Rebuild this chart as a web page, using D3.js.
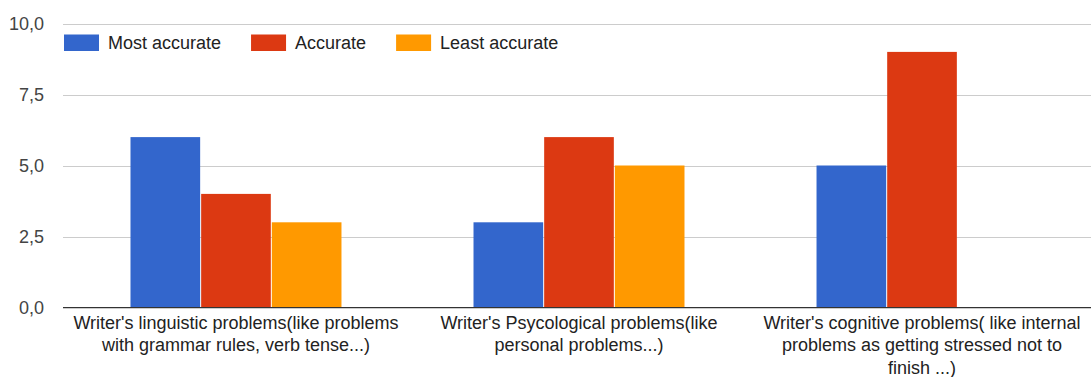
<!DOCTYPE html>
<html>
<head>
<meta charset="utf-8">
<script src="https://cdn.jsdelivr.net/npm/d3@7"></script>
<style>
  html, body { margin: 0; padding: 0; background: #fff; }
  svg { display: block; font-family: "Liberation Sans", Arial, sans-serif; }
</style>
</head>
<body>
<svg id="chart" width="1091" height="377"></svg>
<script>
// Survey responses per problem type
const categories = [
  "Writer's linguistic problems(like problems with grammar rules, verb tense...)",
  "Writer's Psycological problems(like personal problems...)",
  "Writer's cognitive problems( like internal problems as getting stressed not to finish ...)"
];
// How each category label breaks onto lines under the axis
const categoryLines = [
  ["Writer's linguistic problems(like problems", "with grammar rules, verb tense...)"],
  ["Writer's Psycological problems(like", "personal problems...)"],
  ["Writer's cognitive problems( like internal", "problems as getting stressed not to", "finish ...)"]
];
const seriesNames = ["Most accurate", "Accurate", "Least accurate"];
const mostAccurate = [6, 3, 5];
const accurate = [4, 6, 9];
const leastAccurate = [3, 5, 0];
const seriesColors = ["#3366cc", "#dc3912", "#ff9900"];
const yTicks = [0, 2.5, 5, 7.5, 10];

const seriesValues = [mostAccurate, accurate, leastAccurate];

const svg = d3.select("#chart");
const plotLeft = 63, plotRight = 1092, plotTop = 23.5, plotBottom = 307.5;

const x = d3.scaleBand()
  .domain(categories)
  .range([plotLeft, 1095])
  .paddingInner(0.382)
  .paddingOuter(0.1953);

const xSub = d3.scaleBand()
  .domain(seriesNames)
  .range([0, x.bandwidth()]);

const y = d3.scaleLinear().domain([0, 10]).range([plotBottom, plotTop]);

const fmt = v => d3.format(".1f")(v).replace(".", ",");

// Horizontal gridlines and value labels
const yAxis = d3.axisLeft(y).tickValues(yTicks).tickFormat(fmt)
  .tickSize(-(plotRight - plotLeft)).tickPadding(19);
const gy = svg.append("g").attr("transform", `translate(${plotLeft},0)`).call(yAxis);
gy.select(".domain").remove();
gy.selectAll(".tick line").attr("stroke", "#cccccc").attr("stroke-width", 1)
  .attr("shape-rendering", "crispEdges");
gy.selectAll(".tick text").attr("fill", "#444").attr("font-size", 18)
  .attr("font-family", "Liberation Sans, Arial, sans-serif");

// Bars
const groups = svg.append("g").selectAll("g")
  .data(categories)
  .join("g")
  .attr("transform", d => `translate(${x(d)},0)`);

groups.selectAll("rect")
  .data((d, i) => seriesNames.map((s, j) => ({ s, v: seriesValues[j][i], c: seriesColors[j] })))
  .join("rect")
  .attr("x", d => xSub(d.s) + 0.5)
  .attr("y", d => y(d.v))
  .attr("width", xSub.bandwidth() - 1)
  .attr("height", d => y(0) - y(d.v))
  .attr("fill", d => d.c)
  .attr("display", d => d.v > 0 ? null : "none");

// Baseline axis
svg.append("line")
  .attr("x1", plotLeft).attr("x2", plotRight)
  .attr("y1", y(0)).attr("y2", y(0))
  .attr("stroke", "#333").attr("stroke-width", 1.2);

// Category labels
const xAxis = d3.axisBottom(x).tickSize(0).tickFormat("");
const gx = svg.append("g").attr("transform", `translate(0,${plotBottom})`).call(xAxis);
gx.select(".domain").remove();
gx.selectAll(".tick").each(function (d, i) {
  const t = d3.select(this).append("text")
    .attr("fill", "#222")
    .attr("font-size", 18)
    .attr("font-family", "Liberation Sans, Arial, sans-serif")
    .attr("text-anchor", "middle");
  categoryLines[i].forEach((line, k) => {
    t.append("tspan").attr("x", 0).attr("y", 21 + k * 22.5).text(line);
  });
});

// Legend
const legend = svg.append("g");
let lx = 64;
seriesNames.forEach((name, j) => {
  legend.append("rect")
    .attr("x", lx).attr("y", 34.5).attr("width", 35).attr("height", 16.5)
    .attr("fill", seriesColors[j]);
  const txt = legend.append("text")
    .attr("x", lx + 44).attr("y", 49)
    .attr("font-size", 18).attr("fill", "#222")
    .text(name);
  lx = lx + 44 + txt.node().getComputedTextLength() + 30;
});
</script>
</body>
</html>
